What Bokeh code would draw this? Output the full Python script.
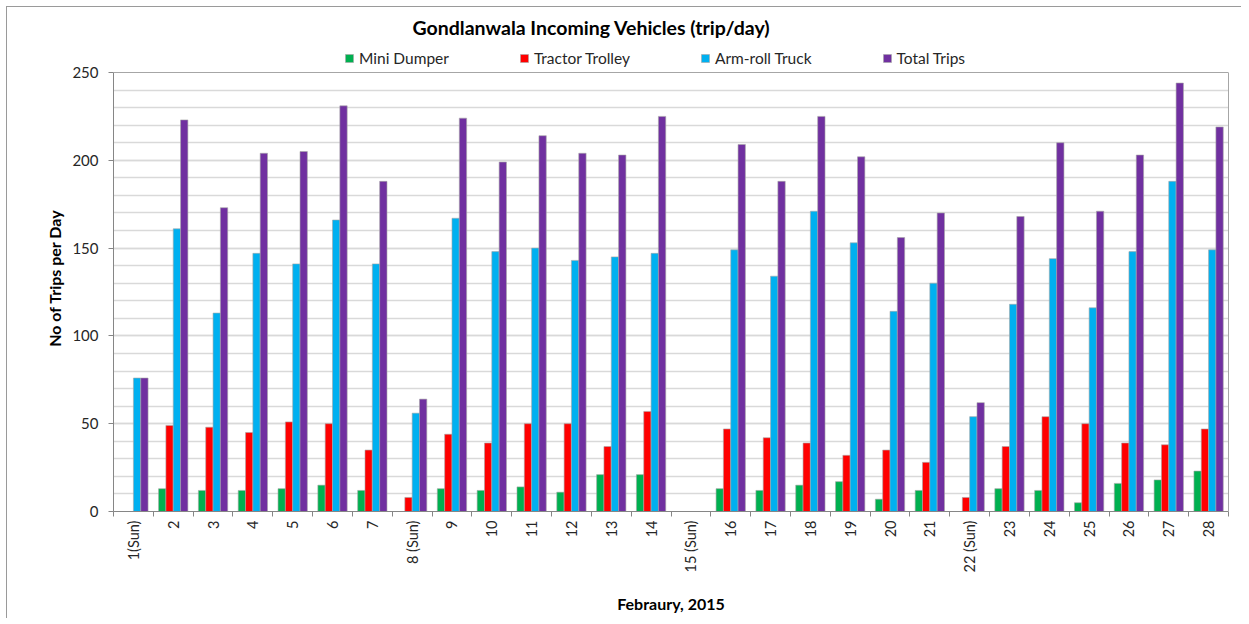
import math
from bokeh.plotting import figure
from bokeh.models import (ColumnDataSource, Range1d, FixedTicker, LinearAxis,
                          Legend, LegendItem, Grid)
from bokeh.transform import dodge
from bokeh.embed import file_html
from bokeh.resources import INLINE

days = ["1(Sun)", "2", "3", "4", "5", "6", "7", "8 (Sun)", "9", "10", "11", "12",
        "13", "14", "15 (Sun)", "16", "17", "18", "19", "20", "21", "22 (Sun)",
        "23", "24", "25", "26", "27", "28"]
mini_dumper = [0, 13, 12, 12, 13, 15, 12, 0, 13, 12, 14, 11, 21, 21, 0, 13, 12, 15,
               17, 7, 12, 0, 13, 12, 5, 16, 18, 23]
tractor_trolley = [0, 49, 48, 45, 51, 50, 35, 8, 44, 39, 50, 50, 37, 57, 0, 47, 42,
                   39, 32, 35, 28, 8, 37, 54, 50, 39, 38, 47]
arm_roll_truck = [76, 161, 113, 147, 141, 166, 141, 56, 167, 148, 150, 143, 145, 147,
                  0, 149, 134, 171, 153, 114, 130, 54, 118, 144, 116, 148, 188, 149]
total_trips = [76, 223, 173, 204, 205, 231, 188, 64, 224, 199, 214, 204, 203, 225,
               0, 209, 188, 225, 202, 156, 170, 62, 168, 210, 171, 203, 244, 219]
y_ticks = [0, 50, 100, 150, 200, 250]

series = [("mini", "Mini Dumper", "#00B050"),
          ("tractor", "Tractor Trolley", "#FF0000"),
          ("arm", "Arm-roll Truck", "#00B0F0"),
          ("total", "Total Trips", "#7030A0")]

centers = [i + 0.5 for i in range(len(days))]
source = ColumnDataSource(dict(x=centers, mini=mini_dumper, tractor=tractor_trolley,
                               arm=arm_roll_truck, total=total_trips))

FONT = "Lato"
GRID = "#d9d9d9"
AXIS = "#868686"
BORDER = "#a6a6a6"

YMAX = 250
# frame extends above 250 to give room for the legend row
p = figure(frame_width=1115, frame_height=467, output_backend="svg",
           toolbar_location=None,
           x_range=Range1d(0, len(days)), y_range=Range1d(0, YMAX * 467 / 439),
           x_axis_type=None, y_axis_type=None,
           min_border_left=106, min_border_right=13, min_border_bottom=107,
           min_border_top=37)
p.styles = {"margin-left": "6px", "margin-top": "6px",
            "border-left": "1px solid #9a9a9a", "border-top": "1px solid #9a9a9a"}
p.outline_line_color = None

offsets = [-0.276, -0.092, 0.092, 0.276]
bar_w = 0.184
items = []
for (col, name, color), off in zip(series, offsets):
    r = p.vbar(x=dodge("x", off, range=p.x_range), top=col, width=bar_w, bottom=0,
               source=source, fill_color=color, line_color=BORDER, line_width=0.6)
    items.append(LegendItem(label=name, renderers=[r]))

# y axis
yaxis = LinearAxis(ticker=FixedTicker(ticks=y_ticks,
                                      minor_ticks=list(range(0, YMAX + 1, 10))),
                   bounds=(0, YMAX))
yaxis.axis_line_color = AXIS
yaxis.major_tick_line_color = AXIS
yaxis.major_tick_out = 5
yaxis.major_tick_in = 0
yaxis.minor_tick_out = 0
yaxis.minor_tick_in = 0
yaxis.major_label_standoff = 10
yaxis.major_label_text_font = FONT
yaxis.major_label_text_font_size = "15px"
yaxis.major_label_text_color = "#262626"
yaxis.axis_label = "No of Trips per Day"
yaxis.axis_label_text_font = FONT
yaxis.axis_label_text_font_style = "bold"
yaxis.axis_label_text_font_size = "16px"
yaxis.axis_label_text_color = "#000000"
yaxis.axis_label_standoff = 5
p.add_layout(yaxis, "left")

# right border of the plot area
raxis = LinearAxis(ticker=FixedTicker(ticks=[]), bounds=(0, YMAX))
raxis.axis_line_color = BORDER
raxis.major_tick_line_color = None
raxis.minor_tick_line_color = None
raxis.major_label_text_font_size = "0px"
p.add_layout(raxis, "right")

# x axis
xaxis = LinearAxis(ticker=FixedTicker(ticks=centers,
                                      minor_ticks=list(range(0, len(days) + 1))))
xaxis.major_label_overrides = {c: d for c, d in zip(centers, days)}
xaxis.axis_line_color = AXIS
xaxis.major_tick_out = 0
xaxis.major_tick_in = 0
xaxis.minor_tick_line_color = AXIS
xaxis.minor_tick_out = 5
xaxis.minor_tick_in = 0
xaxis.major_label_orientation = math.pi / 2
xaxis.major_label_standoff = 4
xaxis.major_label_text_font = FONT
xaxis.major_label_text_font_size = "14.5px"
xaxis.major_label_text_color = "#262626"
xaxis.axis_label = "Febraury, 2015"
xaxis.axis_label_text_font = FONT
xaxis.axis_label_text_font_style = "bold"
xaxis.axis_label_text_font_size = "16px"
xaxis.axis_label_text_color = "#000000"
xaxis.axis_label_standoff = 19
p.add_layout(xaxis, "below")

ygrid = Grid(dimension=1, ticker=FixedTicker(ticks=y_ticks[:-1],
                                             minor_ticks=list(range(0, YMAX, 10))))
ygrid.grid_line_color = GRID
ygrid.grid_line_width = 1.5
ygrid.minor_grid_line_color = GRID
ygrid.minor_grid_line_width = 1.5
p.add_layout(ygrid)

topline = Grid(dimension=1, ticker=FixedTicker(ticks=[YMAX]))
topline.grid_line_color = BORDER
topline.grid_line_width = 1.2
p.add_layout(topline)

legend = Legend(items=items, orientation="horizontal", location=(231, 444),
                spacing=70, label_standoff=5, glyph_width=10, glyph_height=10,
                padding=2, margin=0, border_line_color=None,
                background_fill_alpha=0,
                label_text_font=FONT, label_text_font_size="15.5px",
                label_text_color="#262626")
p.add_layout(legend)

p.title.text = "Gondlanwala Incoming Vehicles (trip/day)"
p.title.align = "left"
p.title.offset = 299
p.title.text_font = FONT
p.title.text_font_size = "19.5px"
p.title.text_font_style = "bold"
p.title.text_color = "#000000"
p.title.standoff = 11

open("out.html", "w").write(file_html(p, INLINE))
